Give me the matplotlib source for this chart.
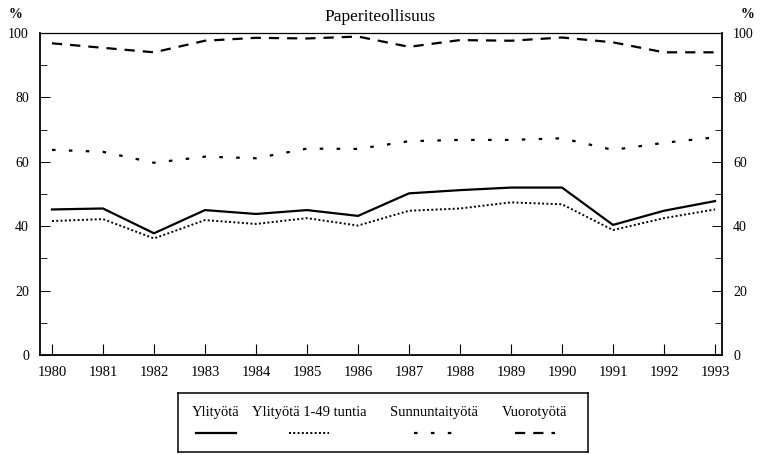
import matplotlib
matplotlib.use("Agg")
import matplotlib.pyplot as plt
from matplotlib.ticker import MultipleLocator

plt.rcParams['font.family'] = ['Liberation Serif', 'DejaVu Serif']

years = [1980, 1981, 1982, 1983, 1984, 1985, 1986, 1987, 1988, 1989, 1990, 1991, 1992, 1993]
ylityota = [45.2, 45.5, 37.8, 45.0, 43.8, 45.0, 43.2, 50.2, 51.2, 52.0, 52.0, 40.4, 44.8, 47.8]
ylityota_1_49 = [41.6, 42.2, 36.2, 41.9, 40.7, 42.5, 40.2, 44.8, 45.5, 47.4, 46.8, 38.8, 42.5, 45.2]
sunnuntaityota = [63.7, 63.1, 59.7, 61.6, 61.1, 64.1, 64.0, 66.4, 66.8, 66.8, 67.3, 63.7, 65.9, 67.6]
vuorotyota = [96.8, 95.4, 94.0, 97.6, 98.5, 98.3, 98.9, 95.7, 97.8, 97.6, 98.6, 97.1, 94.0, 94.0]

labels = ['Ylityötä', 'Ylityötä 1-49 tuntia', 'Sunnuntaityötä', 'Vuorotyötä']
styles = [
    dict(linestyle='-', linewidth=1.6),
    dict(linestyle=(0, (1, 1.2)), linewidth=1.4),
    dict(linestyle=(0, (1.6, 6.0)), linewidth=1.6),
    dict(linestyle=(0, (4.6, 3.6)), linewidth=1.6),
]

fig = plt.figure(figsize=(7.61, 4.55), dpi=100)
ax = fig.add_axes([40 / 761, 100 / 455, 682 / 761, 322 / 455])

for vals, st in zip([ylityota, ylityota_1_49, sunnuntaityota, vuorotyota], styles):
    ax.plot(years, vals, color='black', **st)

ax.set_xlim(1979.765, 1993.137)
ax.set_ylim(0, 100)
ax.set_xticks(years)
ax.yaxis.set_major_locator(MultipleLocator(20))
ax.yaxis.set_minor_locator(MultipleLocator(10))
ax.tick_params(axis='x', direction='in', length=8, width=0.8, labelsize=10.5, pad=8)
ax.tick_params(axis='y', which='major', direction='in', length=7, width=0.7,
               left=True, right=True, labelleft=True, labelright=True, labelsize=10, pad=8)
ax.tick_params(axis='y', which='minor', direction='in', length=5, width=0.6, left=True, right=True)
for s in ['left', 'bottom', 'right']:
    ax.spines[s].set_linewidth(1.3)
ax.spines['top'].set_linewidth(0.9)

fig.text(380 / 761, 1 - 17 / 455, 'Paperiteollisuus', ha='center', va='center', fontsize=12.5)
fig.text(16 / 761, 1 - 14 / 455, '%', ha='center', va='center', fontsize=10, fontweight='bold')
fig.text(748 / 761, 1 - 14 / 455, '%', ha='center', va='center', fontsize=10, fontweight='bold')

# legend box drawn by hand: labels above, line samples below
lax = fig.add_axes([178 / 761, 3 / 455, 410 / 761, 59 / 455])
lax.set_xlim(178, 588)
lax.set_ylim(452, 393)
lax.set_xticks([])
lax.set_yticks([])
for s in lax.spines.values():
    s.set_linewidth(1.1)
centers = [216, 309, 434, 535]
for c, lab, st in zip(centers, labels, styles):
    lax.text(c, 412, lab, ha='center', va='center', fontsize=10.5)
    lax.plot([c - 20, c + 20], [433, 433], color='black', **st)

fig.savefig('out.png', dpi=100)
